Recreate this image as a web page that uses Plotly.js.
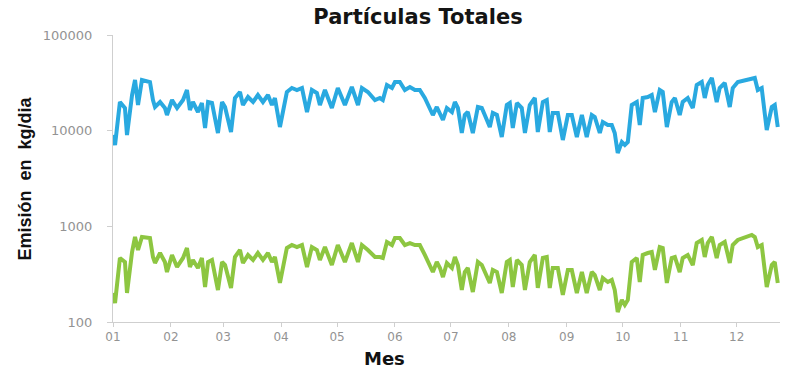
<!DOCTYPE html>
<html>
<head>
<meta charset="utf-8">
<script src="https://cdn.plot.ly/plotly-3.0.1.min.js"></script>
<style>html,body{margin:0;padding:0;background:#fff;}#chart{width:786px;height:371px;}</style>
</head>
<body>
<div id="chart"></div>
<script>
// Day of year for each reading
var days = [
  1, 2.1, 4.7, 7.4, 8.5, 11.2, 12.8, 14.4, 16.5, 20.8,
  22.4, 23.5, 26.2, 28.8, 29.9, 32.6, 35.3, 38.5, 40.6, 42.2,
  43.8, 46.5, 48.6, 50.3, 51.9, 54.0, 57.2, 59.4, 61.0, 64.2,
  66.3, 69.0, 70.6, 73.3, 76.0, 78.6, 81.3, 84.0, 86.1, 87.7,
  90.4, 94.1, 96.8, 99.5, 102.2, 104.9, 107.5, 110.2, 111.8, 114.5,
  118.2, 121.4, 125.2, 128.9, 132.2, 134.3, 137.5, 141.3, 143.9, 145.5,
  147.7, 150.4, 152.0, 154.6, 157.3, 160.0, 162.7, 165.3, 168.0, 170.7,
  172.3, 174.4, 176.1, 177.7, 179.8, 182.5, 184.1, 185.7, 187.8, 189.4,
  191.0, 193.7, 196.4, 198.5, 200.1, 202.8, 204.4, 206.6, 209.2, 211.9,
  213.5, 215.1, 217.3, 219.9, 221.6, 224.2, 226.9, 228.5, 231.2, 233.3,
  234.9, 236.5, 239.2, 241.9, 244.6, 246.7, 249.4, 252.1, 254.7, 257.4,
  259.0, 261.7, 263.3, 266.0, 268.1, 269.7, 271.3, 273.5, 275.1, 276.7,
  278.8, 281.5, 283.1, 284.7, 287.4, 289.5, 291.2, 293.8, 295.4, 297.6,
  300.2, 301.9, 304.5, 306.1, 308.8, 311.5, 313.6, 316.3, 317.9, 319.5,
  321.7, 324.3, 325.9, 328.6, 331.3, 332.9, 335.6, 339.3, 343.1, 344.7,
  346.3, 348.4, 351.1, 353.8, 355.4, 357.0
];

// Blue series (kg/dia)
var serieAzul = [
  9010, 7080, 19940, 17260, 9010, 23600, 33860, 18550, 33860, 32260,
  20920, 17680, 19940, 17260, 14580, 20920, 17260, 20920, 26620, 16450,
  19940, 15670, 19470, 10660, 19940, 19470, 9450, 19940, 17680, 9690,
  21950, 25370, 18550, 22490, 19940, 23600, 19940, 23600, 18550, 21950,
  10920, 25370, 27930, 26620, 27930, 15670, 26620, 24760, 18550, 26620,
  17260, 27930, 18550, 28610, 18550, 27930, 25370, 20920, 21950, 20920,
  30020, 27930, 32260, 32260, 26620, 28610, 26620, 26620, 21950, 17260,
  14580, 17680, 15300, 12930, 17260, 15670, 19940, 17260, 9450, 14580,
  15670, 9450, 17680, 17260, 14580, 10920, 15300, 14580, 8590, 18550,
  19470, 10660, 19470, 17260, 9450, 18550, 21950, 9690, 19940, 20920,
  9690, 15300, 15300, 7990, 14580, 14580, 8590, 14580, 8590, 14580,
  13900, 9450, 12320, 11460, 11460, 9450, 5840, 7610, 7080, 7610,
  18550, 19940, 11460, 21950, 22490, 23600, 15670, 26620, 25370, 10920,
  19940, 21950, 14580, 19940, 21950, 17260, 30020, 32260, 21950, 30020,
  35530, 19940, 27930, 31490, 17680, 27930, 32260, 33860, 35530, 35530,
  26620, 27930, 10160, 17680, 18550, 10920
];

// Green series (kg/dia)
var serieVerde = [
  201, 158, 467, 424, 201, 539, 774, 566, 774, 755,
  478, 414, 526, 424, 333, 502, 376, 467, 594, 376,
  445, 367, 467, 232, 424, 445, 216, 424, 394, 227,
  478, 566, 414, 502, 445, 526, 445, 526, 424, 478,
  256, 594, 638, 608, 638, 376, 608, 566, 445, 608,
  394, 638, 424, 669, 424, 638, 566, 478, 478, 467,
  686, 638, 755, 755, 638, 669, 638, 638, 502, 376,
  333, 424, 367, 295, 414, 367, 478, 394, 216, 333,
  367, 206, 424, 394, 333, 256, 350, 333, 201, 424,
  445, 232, 445, 394, 216, 424, 502, 227, 467, 478,
  227, 367, 367, 192, 350, 350, 201, 333, 201, 333,
  310, 216, 288, 262, 275, 216, 127, 170, 151, 170,
  424, 467, 262, 502, 526, 539, 350, 608, 594, 256,
  467, 478, 333, 467, 502, 394, 669, 720, 478, 669,
  774, 467, 638, 686, 414, 638, 720, 755, 812, 774,
  608, 638, 232, 394, 424, 256
];

var inicioMes = [1, 32, 60, 91, 121, 152, 182, 213, 244, 274, 305, 335];
var etiquetasMes = ['01','02','03','04','05','06','07','08','09','10','11','12'];
var ticksY = [100, 1000, 10000, 100000];
var etiquetasY = ['100', '1000', '10000', '100000'];

var traces = [
  {x: days, y: serieAzul, type: 'scatter', mode: 'lines',
   line: {color: '#29A9E0', width: 4}, hoverinfo: 'skip'},
  {x: days, y: serieVerde, type: 'scatter', mode: 'lines',
   line: {color: '#8DC641', width: 4}, hoverinfo: 'skip'}
];

var tickFont = {family: 'DejaVu Sans, sans-serif', size: 12, color: '#939393'};

var layout = {
  width: 786, height: 371,
  margin: {l: 113, r: 6, t: 35, b: 49},
  paper_bgcolor: '#ffffff', plot_bgcolor: '#ffffff',
  showlegend: false,
  title: {text: 'Partículas Totales',
          font: {family: 'DejaVu Sans, sans-serif', size: 21, color: '#141414', weight: 'bold'},
          x: 418/786, xanchor: 'center', xref: 'container',
          y: 1 - 17/371, yanchor: 'middle', yref: 'container'},
  xaxis: {type: 'linear', range: [1, 358.2], tickvals: inicioMes, ticktext: etiquetasMes,
          showline: true, linecolor: '#cfcfcf', linewidth: 1,
          ticks: 'outside', ticklen: 4, tickcolor: '#cfcfcf',
          showgrid: false, zeroline: false, tickfont: tickFont, ticklabelstandoff: 0},
  yaxis: {type: 'log', range: [2, 5], tickvals: ticksY, ticktext: etiquetasY,
          showline: true, linecolor: '#cfcfcf', linewidth: 1,
          ticks: 'outside', ticklen: 5, tickcolor: '#cfcfcf',
          showgrid: false, zeroline: false,
          tickfont: {family: 'DejaVu Sans, sans-serif', size: 13, color: '#939393'},
          ticklabelstandoff: 12},
  annotations: [
    {text: 'Emisión  en  kg/dia', xref: 'paper', yref: 'paper',
     x: (24 - 113) / 667, y: 0.5, xanchor: 'center', yanchor: 'middle',
     textangle: -90, showarrow: false,
     font: {family: 'Liberation Sans, Arial, sans-serif', size: 18, color: '#111111', weight: 'bold'}},
    {text: 'Mes', xref: 'paper', yref: 'paper',
     x: (384 - 113) / 667, y: -(358 - 322) / 287, xanchor: 'center', yanchor: 'middle',
     showarrow: false,
     font: {family: 'DejaVu Sans, sans-serif', size: 18, color: '#111111', weight: 'bold'}}
  ]
};

Plotly.newPlot('chart', traces, layout, {displayModeBar: false, staticPlot: true});
</script>
</body>
</html>
